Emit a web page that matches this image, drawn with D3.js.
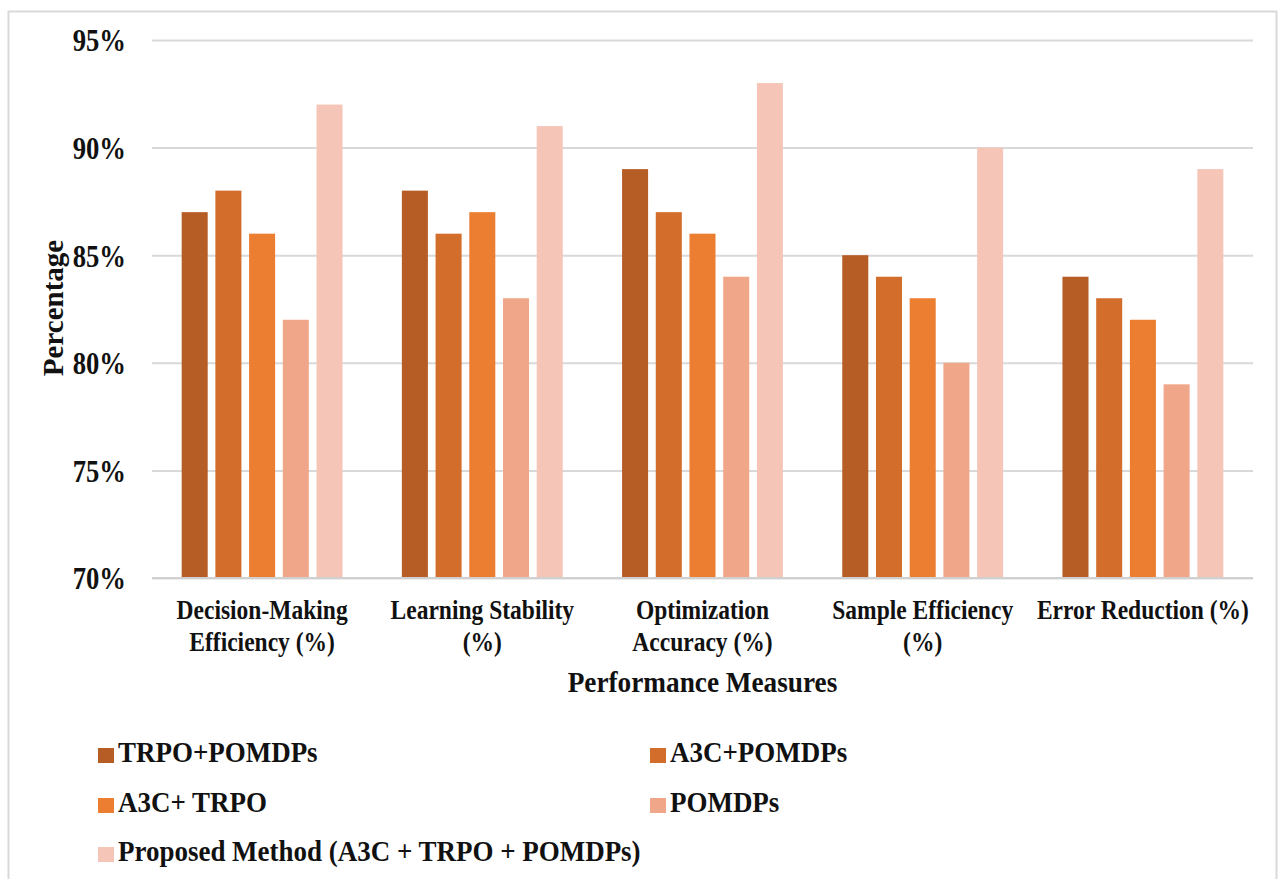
<!DOCTYPE html>
<html><head><meta charset="utf-8">
<script src="https://cdn.jsdelivr.net/npm/d3@7"></script>
<style>
html,body{margin:0;padding:0;background:#fff;}
svg{display:block;font-family:"Liberation Serif","Times New Roman",serif;font-weight:bold;}
</style></head>
<body>
<script>
const categories = [["Decision-Making","Efficiency (%)"],["Learning Stability","(%)"],["Optimization","Accuracy (%)"],["Sample Efficiency","(%)"],["Error Reduction (%)"]];
const seriesNames = ["TRPO+POMDPs","A3C+POMDPs","A3C+ TRPO","POMDPs","Proposed Method (A3C + TRPO + POMDPs)"];
const seriesColors = ["#b65c25","#d36d2c","#ec7e32","#f0a688","#f5c6b7"];
// series values (per series across categories)
const trpoPomdps = [87,88,89,85,84];
const a3cPomdps  = [88,86,87,84,83];
const a3cTrpo    = [86,87,86,83,82];
const pomdps     = [82,83,84,80,79];
const proposed   = [92,91,93,90,89];
const seriesValues = [trpoPomdps,a3cPomdps,a3cTrpo,pomdps,proposed];
const yTicks = [70,75,80,85,90,95];

const W=1279,H=879;
const svg=d3.select("body").append("svg").attr("width",W).attr("height",H);
svg.append("rect").attr("x",8.5).attr("y",11.5).attr("width",1268).attr("height",880)
  .attr("fill","#fff").attr("stroke","#d9d9d9").attr("stroke-width",2);

const plot={left:152,right:1253,top:40,bottom:578};
const x0=d3.scaleBand().domain(d3.range(categories.length)).range([plot.left,plot.right]);
const x1=d3.scaleBand().domain(d3.range(seriesNames.length)).range([0,x0.bandwidth()]).paddingInner(0.228).paddingOuter(0.88);
const y=d3.scaleLinear().domain([70,95]).range([plot.bottom,plot.top]);
const SX=0.84;

// gridlines
const yAxis=d3.axisLeft(y).tickValues(yTicks).tickSize(-(plot.right-plot.left)).tickFormat(d=>d+"%");
const gy=svg.append("g").attr("transform",`translate(${plot.left},0)`).call(yAxis);
gy.select(".domain").remove();
gy.selectAll(".tick line").attr("stroke","#d9d9d9").attr("stroke-width",2);
gy.selectAll(".tick text").attr("x",0).attr("dy","0.35em")
  .attr("transform","translate(-26,0) scale(0.86,1)")
  .attr("font-size",31).attr("fill","#111").attr("font-family","Liberation Serif").attr("font-weight","bold");

// bars
const groups=svg.append("g").selectAll("g").data(seriesValues).join("g").attr("fill",(d,i)=>seriesColors[i]);
groups.each(function(vals,si){
  d3.select(this).selectAll("rect").data(vals).join("rect")
    .attr("x",(v,ci)=>x0(ci)+x1(si))
    .attr("width",x1.bandwidth())
    .attr("y",v=>y(v))
    .attr("height",v=>y(70)-y(v));
});
// baseline
svg.append("line").attr("x1",plot.left).attr("x2",plot.right).attr("y1",y(70)).attr("y2",y(70)).attr("stroke","#d0d0d0").attr("stroke-width",2);

// category labels
categories.forEach((lines,ci)=>{
  const cx=x0(ci)+x0.bandwidth()/2;
  lines.forEach((t,li)=>{
    svg.append("text").attr("transform",`translate(${cx},${619+li*32}) scale(${SX},1)`)
      .attr("text-anchor","middle").attr("font-size",28).attr("fill","#111").text(t);
  });
});

// axis titles
svg.append("text").attr("transform",`translate(${(plot.left+plot.right)/2},692) scale(0.94,1)`)
  .attr("text-anchor","middle").attr("font-size",29).attr("fill","#111").text("Performance Measures");
svg.append("text").attr("transform",`translate(63,308) rotate(-90) scale(1,1)`)
  .attr("text-anchor","middle").attr("font-size",29).attr("fill","#111").text("Percentage");

// legend
const legendPos=[[98,762],[650,762],[98,812],[650,812],[98,861]];
seriesNames.forEach((n,i)=>{
  const [lx,ly]=legendPos[i];
  svg.append("rect").attr("x",lx).attr("y",ly-14).attr("width",16).attr("height",15).attr("fill",seriesColors[i]);
  svg.append("text").attr("transform",`translate(${lx+20},${ly}) scale(0.93,1)`)
    .attr("font-size",29).attr("fill","#111").text(n);
});
</script>
</body></html>
